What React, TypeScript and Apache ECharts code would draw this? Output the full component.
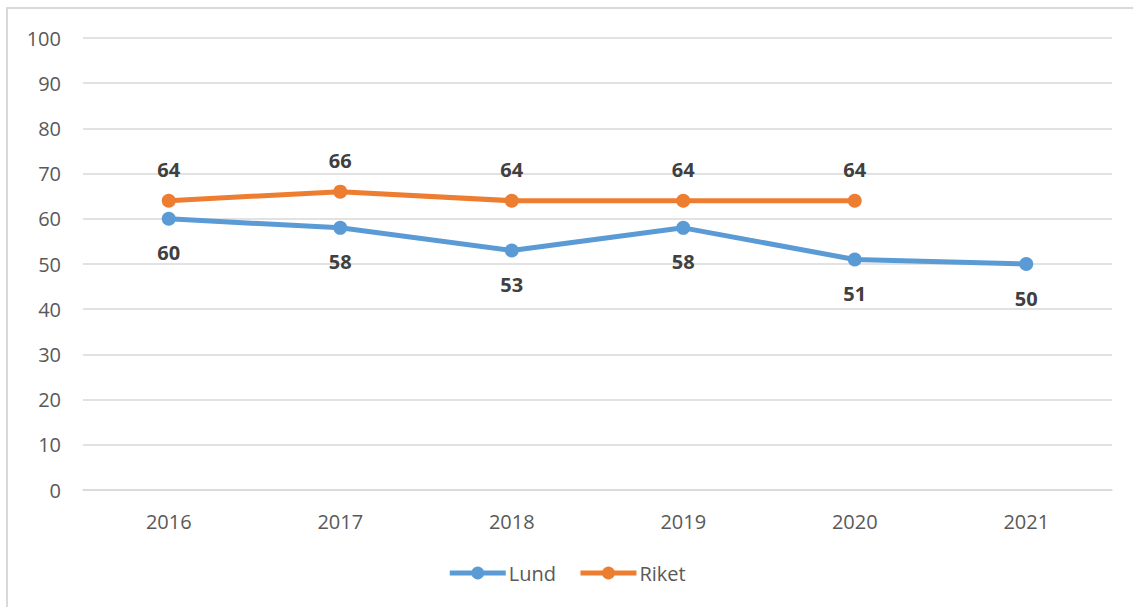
import React, { useEffect, useRef } from "react";
import * as echarts from "echarts";

const years = ["2016", "2017", "2018", "2019", "2020", "2021"];
const lund = [60, 58, 53, 58, 51, 50];
const riket: (number | null)[] = [64, 66, 64, 64, 64, null];

const FONT = "'Open Sans', 'Noto Sans', sans-serif";

export default function App() {
  const ref = useRef<HTMLDivElement>(null);
  useEffect(() => {
    if (!ref.current) return;
    const chart = echarts.init(ref.current, undefined, { renderer: "svg" });
    chart.setOption({
      animation: false,
      backgroundColor: "#ffffff",
      textStyle: { fontFamily: FONT },
      graphic: [
        {
          type: "rect",
          shape: { x: 7, y: 8, width: 1140, height: 620 },
          style: { fill: "none", stroke: "#d9d9d9", lineWidth: 2 },
          silent: true,
        },
      ],
      grid: { left: 83, right: 21, top: 38, bottom: 117 },
      legend: {
        bottom: 19,
        left: "center",
        itemWidth: 56,
        itemHeight: 16,
        itemGap: 22,
        lineStyle: { width: 5 },
        textStyle: { fontSize: 20, color: "#595959", fontFamily: FONT, padding: [0, 0, 0, -2] },
        data: ["Lund", "Riket"],
      },
      xAxis: {
        type: "category",
        data: years,
        boundaryGap: true,
        axisLine: { show: true, lineStyle: { color: "#d9d9d9", width: 1.5 } },
        axisTick: { show: false },
        axisLabel: { fontSize: 20, color: "#595959", margin: 21, fontFamily: FONT },
      },
      yAxis: {
        type: "value",
        min: 0,
        max: 100,
        interval: 10,
        axisLine: { show: false },
        axisTick: { show: false },
        splitLine: { lineStyle: { color: "#d9d9d9", width: 1.5 } },
        axisLabel: { fontSize: 20, color: "#595959", margin: 22, fontFamily: FONT },
      },
      series: [
        {
          name: "Lund",
          type: "line",
          data: lund,
          color: "#5b9bd5",
          symbol: "circle",
          symbolSize: 14,
          lineStyle: { width: 5, color: "#5b9bd5" },
          itemStyle: { color: "#5b9bd5" },
          label: {
            show: true,
            position: "bottom",
            distance: 17,
            fontSize: 20,
            fontWeight: "bold",
            color: "#404040",
            fontFamily: FONT,
          },
        },
        {
          name: "Riket",
          type: "line",
          data: riket,
          color: "#ed7d31",
          symbol: "circle",
          symbolSize: 14,
          lineStyle: { width: 5, color: "#ed7d31" },
          itemStyle: { color: "#ed7d31" },
          label: {
            show: true,
            position: "top",
            distance: 14,
            fontSize: 20,
            fontWeight: "bold",
            color: "#404040",
            fontFamily: FONT,
          },
        },
      ],
    });
    return () => chart.dispose();
  }, []);
  return (
    <div
      ref={ref}
      style={{ position: "absolute", left: 0, top: 0, width: 1133, height: 607 }}
    />
  );
}
